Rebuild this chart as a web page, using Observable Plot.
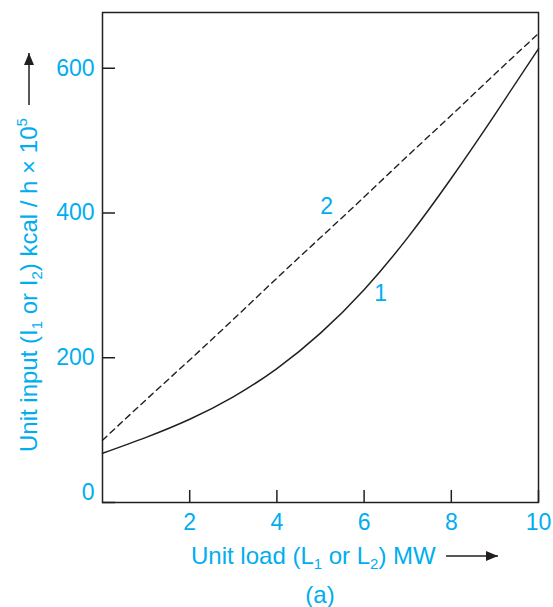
<!DOCTYPE html>
<html>
<head>
<meta charset="utf-8">
<script src="https://cdn.jsdelivr.net/npm/d3@7"></script>
<script src="https://cdn.jsdelivr.net/npm/@observablehq/plot@0.6"></script>
<style>
  html, body { margin: 0; padding: 0; background: #fff; }
  body { width: 553px; height: 607px; overflow: hidden; }
</style>
</head>
<body>
<div id="chart"></div>
<script>
// Unit load (MW)
const load = [0, 1, 2, 3, 4, 5, 6, 7, 8, 9, 10];
// Curve 1 (solid): unit input, kcal/h x 10^5
const input1 = [68, 90, 115, 146, 185, 234, 294, 366, 448, 536, 627];
// Curve 2 (dashed)
const input2 = [86, 142, 197, 253, 310, 366, 422, 479, 535, 592, 648];
// Curve labels
const curveLabels = ["1", "2"];
const labelX = [6.38, 5.14];
const labelY = [288, 409];
// Ticks
const xTicks = [2, 4, 6, 8, 10];
const yTicks = [200, 400, 600];
const yZero = [0];

const blue = "#00aeef";
const ink = "#231f20";
const font = "'Liberation Sans', Arial, Helvetica, sans-serif";

const data1 = load.map((x, i) => ({x, y: input1[i]}));
const data2 = load.map((x, i) => ({x, y: input2[i]}));
const labels = curveLabels.map((t, i) => ({t, x: labelX[i], y: labelY[i]}));

const W = 553, H = 607;
const plot = Plot.plot({
  width: W,
  height: H,
  marginLeft: 102,
  marginRight: 15,
  marginTop: 12,
  marginBottom: 105,
  style: {fontFamily: font, fontSize: "23px", background: "#fff", overflow: "visible"},
  x: {domain: [0, 10]},
  y: {domain: [0, 677]},
  marks: [
    Plot.axisX({ticks: xTicks, tickSize: -12, tickFormat: () => "", stroke: ink, strokeWidth: 1.5, label: null}),
    Plot.axisX({ticks: xTicks, tickSize: 0, tickPadding: 11, fill: blue, label: null}),
    Plot.axisY({ticks: yTicks.concat(yZero), tickSize: -13, tickFormat: () => "", stroke: ink, strokeWidth: 1.5, label: null}),
    Plot.axisY({ticks: yTicks, tickSize: 0, tickPadding: 8, fill: blue, label: null}),
    Plot.axisY({ticks: yZero, tickSize: 0, tickPadding: 8, dy: -10, fill: blue, label: null}),
    Plot.line(data2, {x: "x", y: "y", curve: "natural", stroke: ink, strokeWidth: 1.4, strokeDasharray: "6,4.5"}),
    Plot.line(data1, {x: "x", y: "y", curve: "natural", stroke: ink, strokeWidth: 1.5}),
    Plot.text(labels, {x: "x", y: "y", text: "t", fill: blue, fontSize: 23}),
    Plot.frame({stroke: ink, strokeWidth: 1.5})
  ]
});
document.getElementById("chart").appendChild(plot);

// Axis titles with sub/superscripts and arrows
const svg = d3.select(plot);
const defs = svg.append("defs");
defs.append("marker").attr("id", "ah").attr("viewBox", "0 0 12 10")
  .attr("refX", 12).attr("refY", 5).attr("markerWidth", 12).attr("markerHeight", 10)
  .attr("markerUnits", "userSpaceOnUse").attr("orient", "auto")
  .append("path").attr("d", "M0,0L12,5L0,10Z").attr("fill", ink);

// X title
const xt = svg.append("text").attr("x", 191).attr("y", 564)
  .attr("text-anchor", "start")
  .attr("fill", blue).attr("font-size", 24).attr("font-family", font);
xt.append("tspan").text("Unit load (L");
xt.append("tspan").attr("font-size", 15).attr("dy", 5).text("1");
xt.append("tspan").attr("dy", -5).text(" or L");
xt.append("tspan").attr("font-size", 15).attr("dy", 5).text("2");
xt.append("tspan").attr("dy", -5).text(") MW");
svg.append("line").attr("x1", 446).attr("y1", 556).attr("x2", 498).attr("y2", 556)
  .attr("stroke", ink).attr("stroke-width", 1.5).attr("marker-end", "url(#ah)");

// Y title (rotated)
const yt = svg.append("text").attr("transform", "translate(37,452) rotate(-90)")
  .attr("x", 0).attr("y", 0).attr("text-anchor", "start")
  .attr("fill", blue).attr("font-size", 24).attr("font-family", font);
yt.append("tspan").text("Unit input (I");
yt.append("tspan").attr("font-size", 15).attr("dy", 5).text("1");
yt.append("tspan").attr("dy", -5).text(" or I");
yt.append("tspan").attr("font-size", 15).attr("dy", 5).text("2");
yt.append("tspan").attr("dy", -5).text(") kcal / h \u00d7 10");
yt.append("tspan").attr("font-size", 15).attr("dy", -10).text("5");
svg.append("line").attr("x1", 29).attr("y1", 105).attr("x2", 29).attr("y2", 53)
  .attr("stroke", ink).attr("stroke-width", 1.5).attr("marker-end", "url(#ah)");

// Caption
svg.append("text").attr("x", 320).attr("y", 603).attr("text-anchor", "middle")
  .attr("fill", blue).attr("font-size", 24).attr("font-family", font).text("(a)");
</script>
</body>
</html>
